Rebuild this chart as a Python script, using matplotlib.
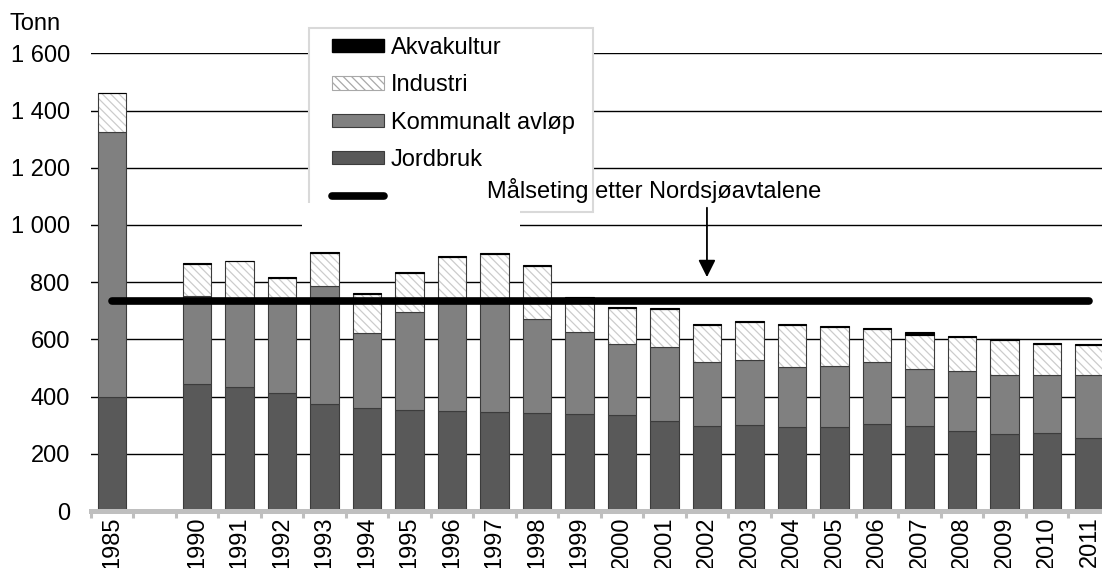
import numpy as np
import matplotlib
matplotlib.use('Agg')
import matplotlib.pyplot as plt
from matplotlib.patches import Rectangle
from matplotlib.lines import Line2D
from matplotlib.ticker import FuncFormatter, FixedLocator

plt.rcParams['font.family'] = ['Liberation Sans', 'DejaVu Sans']
plt.rcParams['hatch.linewidth'] = 0.9

# categories (blank slot between 1985 and 1990)
years = ['1985', ''] + [str(y) for y in range(1990, 2012)]

nan = np.nan
jordbruk = [400, nan, 444, 435, 411, 373, 359, 353, 351, 345, 342, 338, 335, 314,
            296, 300, 293, 293, 304, 296, 279, 269, 272, 254]
kommunalt = [926, nan, 308, 297, 319, 414, 262, 344, 384, 388, 328, 288, 248, 258,
             224, 227, 209, 215, 216, 202, 209, 205, 202, 220]
industri = [134, nan, 112, 141, 86, 114, 139, 134, 152, 166, 186, 115, 126, 136,
            131, 135, 148, 137, 115, 116, 120, 123, 110, 107]
akvakultur = [2, nan, 2, 2, 3, 6, 3, 4, 6, 4, 5, 8, 5, 2,
              3, 3, 4, 3, 5, 12, 5, 3, 2, 2]
maal = 733  # Målseting etter Nordsjøavtalene

FS = 17
W, H = 1102, 568
fig = plt.figure(figsize=(W / 100, H / 100), dpi=100)
ax = fig.add_axes([90.7 / W, 1 - 511 / H, 1020 / W, (511 - 53.4) / H])

x = np.arange(len(years))
jord = np.array(jordbruk, dtype=float)
komm = np.array(kommunalt, dtype=float)
ind = np.array(industri, dtype=float)
akva = np.array(akvakultur, dtype=float)

bw = 0.67
edge = '#3c3c3c'
hatch = '\\\\\\\\'
ax.bar(x, jord, bw, color='#595959', edgecolor=edge, linewidth=0.8, zorder=2)
ax.bar(x, komm, bw, bottom=jord, color='#808080', edgecolor=edge, linewidth=0.8, zorder=2)
ax.bar(x, ind, bw, bottom=jord + komm, color='white', edgecolor='#cccccc',
       hatch=hatch, linewidth=0, zorder=2)
ax.bar(x, ind, bw, bottom=jord + komm, fill=False, edgecolor=edge, linewidth=0.8, zorder=2)
ax.bar(x, akva, bw, bottom=jord + komm + ind, color='black', edgecolor='black',
       linewidth=0.8, zorder=2)

ax.plot([x[0], x[-1]], [maal, maal], color='black', lw=5.5,
        solid_capstyle='round', zorder=3)

ax.set_ylim(0, 1600)
ax.set_xlim(-0.5, len(years) - 0.5)
ax.set_yticks(np.arange(0, 1601, 200))
ax.yaxis.set_major_formatter(FuncFormatter(lambda v, p: f'{v:,.0f}'.replace(',', ' ')))
ax.grid(axis='y', color='black', lw=1.0)
ax.set_axisbelow(True)
ax.tick_params(axis='y', length=0, pad=15, labelsize=FS)

ax.set_xticks(x)
ax.set_xticklabels(years, rotation=90, fontsize=FS)
ax.tick_params(axis='x', which='major', length=0, pad=4)
ax.xaxis.set_minor_locator(FixedLocator(np.arange(-0.5, len(years), 1.0)))
ax.tick_params(axis='x', which='minor', length=4.8, width=2.2, color='#bfbfbf')

for s in ['left', 'right', 'top']:
    ax.spines[s].set_visible(False)
ax.spines['bottom'].set_color('#bfbfbf')
ax.spines['bottom'].set_linewidth(3.6)
ax.spines['bottom'].set_zorder(4)

# legend frame and white patch under it
def px_rect(x0, y0, x1, y1, **kw):
    r = Rectangle((x0 / W, 1 - y1 / H), (x1 - x0) / W, (y1 - y0) / H,
                  transform=fig.transFigure, clip_on=False, **kw)
    ax.add_artist(r)

px_rect(309, 28, 593, 212, facecolor='white', edgecolor='#d9d9d9', lw=1.5, zorder=5)
px_rect(302, 203, 520, 236, facecolor='white', edgecolor='none', zorder=5.5)

handles = [
    Rectangle((0, 0), 1, 1, facecolor='black', edgecolor='black'),
    Rectangle((0, 0), 1, 1, facecolor='white', edgecolor='#a8a8a8', hatch=hatch, lw=0.8),
    Rectangle((0, 0), 1, 1, facecolor='#808080', edgecolor=edge, lw=0.8),
    Rectangle((0, 0), 1, 1, facecolor='#595959', edgecolor=edge, lw=0.8),
    Line2D([0], [0], color='black', lw=5.5, solid_capstyle='round'),
]
labels = ['Akvakultur', 'Industri', 'Kommunalt avløp', 'Jordbruk', ' ']
leg = ax.legend(handles, labels, loc='upper left', bbox_to_anchor=(332 / W, 1 - 37 / H),
                bbox_transform=fig.transFigure, frameon=False, borderpad=0,
                borderaxespad=0, handlelength=2.2, handleheight=0.5, handletextpad=0.3,
                labelspacing=0.65, fontsize=FS)
leg.set_zorder(6)

ax.text(12.75, 1120, 'Målseting etter Nordsjøavtalene', ha='center', va='center',
        fontsize=FS, zorder=7)
ax.annotate('', xy=(14, 808), xytext=(14, 1070),
            arrowprops=dict(arrowstyle='-|>', color='black', lw=1.3, mutation_scale=26),
            zorder=7)

fig.text(10 / W, 1 - 24 / H, 'Tonn', ha='left', va='center', fontsize=FS)

fig.savefig('out.png', dpi=100)
